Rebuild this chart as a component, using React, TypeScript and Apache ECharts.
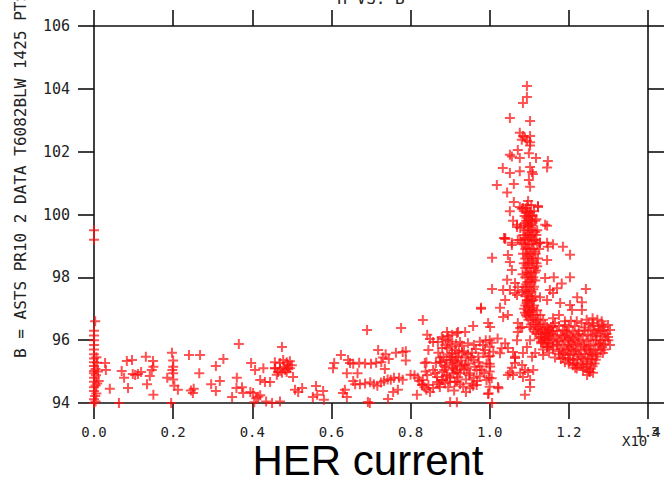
import React, { useEffect, useRef } from "react";
import * as echarts from "echarts";

// HER current (x10^3) vs B
const xTickValues = [0, 0.2, 0.4, 0.6, 0.8, 1.0, 1.2, 1.4];
const yTickValues = [94, 96, 98, 100, 102, 104, 106];

const zeroColumn: [number, number][] = [
  [0, 94.0], [0.004, 94.05], [0, 94.12], [0.003, 94.22], [0.006, 94.3], [0, 94.38], [0, 94.5],
  [0.004, 94.56], [0.008, 94.62], [0, 94.68], [0, 94.8], [0.005, 94.88], [0, 94.95], [0, 95.02],
  [0.004, 95.08], [0.008, 95.28], [0, 95.18], [0, 95.3], [0, 95.42], [0.006, 95.46], [0, 95.55],
  [0, 95.7], [0, 95.85], [0, 96.0], [0, 96.15], [0, 96.3], [0.003, 96.6], [0, 99.2], [0, 99.5],
  [0.01, 95.0], [0.012, 94.7],
];

const lowBand: [number, number][] = [
  [0.028, 95.27], [0.03, 95.05], [0.04, 94.45], [0.063, 94.0], [0.07, 95.02], [0.076, 94.8],
  [0.083, 95.34], [0.086, 94.48], [0.096, 95.37], [0.098, 94.92], [0.104, 94.89], [0.111, 94.92],
  [0.119, 94.99], [0.131, 95.47], [0.134, 94.6], [0.141, 94.86], [0.146, 95.05], [0.149, 95.34],
  [0.15, 95.15], [0.15, 94.26], [0.185, 94.8], [0.197, 95.6], [0.2, 95.35], [0.2, 95.15],
  [0.2, 94.95], [0.2, 94.75], [0.198, 95.05], [0.195, 94.0], [0.203, 94.55], [0.212, 94.42],
  [0.24, 95.53], [0.245, 94.4], [0.25, 94.32], [0.252, 94.45], [0.268, 95.53], [0.266, 94.95],
  [0.296, 94.6], [0.308, 95.18], [0.308, 94.38], [0.318, 94.7], [0.327, 95.4], [0.349, 94.19],
  [0.361, 94.8], [0.366, 95.88], [0.36, 94.48], [0.374, 94.5], [0.377, 94.32], [0.397, 95.27],
  [0.407, 95.05], [0.395, 94.35], [0.402, 94.32], [0.41, 94.15], [0.415, 94.2], [0.42, 94.25],
  [0.405, 94.02], [0.428, 95.11], [0.42, 94.73], [0.432, 94.67], [0.445, 94.67], [0.45, 94.0],
  [0.458, 95.11], [0.462, 94.9], [0.435, 94.05], [0.47, 94.05],
  [0.457, 95.3], [0.47, 95.27], [0.478, 95.37], [0.487, 95.3], [0.495, 95.33], [0.5, 95.2],
  [0.49, 95.11], [0.483, 95.05], [0.465, 94.99], [0.457, 95.11], [0.475, 94.96], [0.487, 94.99],
  [0.495, 95.11], [0.503, 94.83], [0.475, 95.78], [0.48, 95.15], [0.49, 95.22], [0.47, 95.1],
  [0.508, 94.42], [0.516, 94.35], [0.526, 94.48], [0.553, 94.19], [0.561, 94.54], [0.564, 94.26],
  [0.579, 94.38], [0.581, 94.1], [0.604, 95.11], [0.607, 95.27], [0.624, 95.53], [0.634, 94.42],
  [0.629, 94.32], [0.639, 94.19], [0.642, 95.37], [0.647, 95.27], [0.639, 94.95],
  [0.655, 95.25], [0.67, 95.28], [0.685, 95.26], [0.7, 95.25], [0.713, 95.28], [0.726, 95.3],
  [0.655, 94.7], [0.66, 94.6], [0.666, 94.95], [0.672, 94.6], [0.685, 94.62], [0.698, 94.66],
  [0.707, 94.6], [0.716, 94.55], [0.725, 94.65], [0.733, 94.7], [0.742, 94.75], [0.75, 94.74],
  [0.758, 94.8], [0.771, 94.8], [0.78, 94.74],
  [0.69, 96.32], [0.692, 94.03], [0.697, 94.0], [0.718, 95.69], [0.73, 95.45], [0.737, 95.55],
  [0.745, 95.4], [0.763, 95.6], [0.78, 95.62], [0.788, 95.65], [0.788, 95.35], [0.735, 95.08],
  [0.743, 94.13], [0.756, 94.35], [0.768, 94.42], [0.776, 96.39],
];

const midCluster: [number, number][] = [
  [0.8, 94.9], [0.81, 94.88], [0.818, 94.8], [0.822, 94.7], [0.83, 94.6], [0.835, 94.5],
  [0.84, 94.42], [0.816, 94.26], [0.831, 96.64], [0.9, 94.03], [0.917, 94.02],
  [0.842, 96.17], [0.849, 96.04], [0.857, 95.94], [0.869, 95.94], [0.882, 96.04], [0.895, 96.0],
  [0.905, 96.17], [0.917, 96.23], [0.845, 95.69], [0.892, 95.75], [0.905, 95.59], [0.912, 95.69],
  [0.9, 95.37], [0.912, 95.31], [0.92, 95.47], [0.887, 95.15], [0.905, 95.12], [0.917, 94.99],
  [0.88, 94.99], [0.867, 94.83], [0.882, 94.73], [0.9, 94.8], [0.912, 94.67], [0.842, 94.89],
  [0.831, 94.73], [0.829, 94.57], [0.845, 94.57], [0.857, 94.48], [0.867, 94.67], [0.874, 94.51],
  [0.849, 94.35], [0.836, 95.27], [0.864, 95.27], [0.857, 95.05], [0.874, 95.31], [0.925, 95.94],
  [0.892, 96.26], [0.838, 95.0], [0.84, 95.3],
  [0.879, 96.1], [0.895, 96.13], [0.92, 96.26], [0.938, 96.26], [0.958, 96.45], [0.996, 96.55],
  [1.001, 96.42], [0.978, 97.0],
  [0.888, 95.85], [0.9, 95.95], [0.915, 95.88], [0.93, 95.82], [0.945, 95.9], [0.96, 95.85],
  [0.975, 95.95], [0.99, 96.0], [1.005, 95.92], [1.02, 96.05],
  [0.883, 95.47], [0.891, 95.37], [0.904, 95.47], [0.917, 95.26], [0.908, 95.1], [0.925, 95.16],
  [0.938, 95.21], [0.946, 95.26], [0.959, 95.37], [0.971, 95.47], [0.984, 95.58], [0.997, 95.47],
  [0.992, 95.26], [1.001, 95.16], [0.975, 95.16], [0.967, 95.05], [0.95, 94.95], [0.925, 94.95],
  [0.908, 94.95], [0.891, 94.89], [0.879, 94.73], [0.887, 94.63], [0.9, 94.68], [0.917, 94.68],
  [0.933, 94.52], [0.95, 94.47], [0.967, 94.57], [0.992, 94.73], [1.005, 94.79], [1.0, 94.52],
  [1.022, 94.47], [0.997, 94.31], [0.98, 95.05], [0.988, 95.69], [1.0, 95.79], [1.009, 95.63],
  [1.026, 95.58], [1.03, 95.74], [1.039, 95.9], [0.93, 95.6], [0.94, 95.45], [0.955, 95.6],
  [0.965, 95.72], [0.935, 95.05], [0.96, 94.8], [0.975, 94.85], [0.94, 94.75], [0.955, 94.62],
  [1.0, 96.0], [1.0, 95.5], [1.0, 95.25], [1.0, 95.0], [0.998, 94.8], [1.006, 94.0],
  [1.021, 94.51], [0.996, 94.29],
  [1.077, 96.39], [1.069, 96.0], [1.064, 95.43], [1.056, 95.12], [1.046, 94.89], [1.084, 94.83],
  [1.102, 94.51], [1.089, 94.26],
  [1.046, 95.75], [1.059, 95.62], [1.064, 95.47], [1.084, 95.59], [1.094, 95.78], [1.107, 95.47],
  [1.115, 95.59], [1.082, 95.21], [1.064, 95.27], [1.051, 94.96], [1.059, 94.89], [1.077, 94.96],
  [1.089, 95.05], [1.097, 94.99], [1.11, 95.05], [1.102, 94.73],
  [1.006, 98.62], [1.006, 97.63], [0.978, 97.03], [1.034, 97.6], [1.039, 97.28], [1.026, 97.03],
  [1.034, 96.74], [1.046, 96.8], [1.051, 97.6], [1.064, 97.5], [1.071, 96.55], [1.082, 96.42],
  [1.071, 96.26], [1.102, 96.42], [1.115, 96.26], [1.102, 96.0], [1.145, 96.42], [1.147, 96.23],
  [1.135, 96.0], [1.145, 95.78],
];

const midExtra: [number, number][] = [
  [0.87, 95.6], [0.878, 95.3], [0.885, 95.05], [0.893, 94.85], [0.898, 95.55], [0.906, 95.28],
  [0.913, 95.05], [0.92, 94.82], [0.928, 95.35], [0.935, 95.65], [0.942, 95.1], [0.948, 94.88],
  [0.953, 95.45], [0.962, 95.15], [0.968, 94.7], [0.972, 95.3], [0.983, 95.85], [0.986, 94.95],
  [0.862, 94.95], [0.872, 94.6], [0.895, 94.5], [0.91, 94.4], [0.925, 94.6], [0.94, 94.35],
  [0.958, 94.55], [0.88, 95.75], [0.905, 95.8], [0.922, 95.65], [0.875, 95.45], [0.89, 95.2],
  [0.915, 95.45], [0.93, 95.2], [0.945, 95.55],
];

const peakColumn: [number, number][] = [
  [1.094, 104.09], [1.094, 103.74], [1.084, 103.55], [1.051, 103.07], [1.102, 102.98],
  [1.076, 102.6], [1.084, 102.5], [1.081, 102.38], [1.089, 102.45], [1.102, 102.5], [1.094, 102.35],
  [1.102, 102.3], [1.102, 102.2], [1.071, 102.05], [1.051, 101.9], [1.056, 101.85], [1.076, 101.8],
  [1.099, 101.95], [1.117, 101.8], [1.147, 101.7], [1.145, 101.5], [1.033, 101.48], [1.051, 101.32],
  [1.076, 101.38], [1.102, 101.51], [1.107, 101.35], [1.109, 101.29], [1.099, 101.1], [1.102, 100.88],
  [1.018, 100.94], [1.061, 100.97], [1.044, 100.7], [1.061, 100.4], [1.051, 100.1], [1.076, 100.24],
  [1.081, 100.18], [1.097, 100.43], [1.102, 100.08], [1.122, 100.24], [1.059, 99.8], [1.069, 99.6],
  [1.039, 99.25], [1.056, 99.03], [1.071, 99.19], [1.081, 99.1], [1.145, 99.64], [1.127, 99.1],
  [1.145, 99.1], [1.16, 99.05], [1.185, 98.97], [1.203, 98.72], [1.046, 98.71], [1.036, 99.25],
  [1.084, 100.21], [1.094, 100.05], [1.107, 99.98], [1.122, 100.27],
  [1.069, 99.67], [1.077, 99.57], [1.089, 99.73], [1.097, 99.6], [1.107, 99.76], [1.115, 99.44],
  [1.102, 99.28], [1.089, 99.25], [1.077, 99.19], [1.056, 99.1], [1.039, 99.22],
  [1.051, 98.49], [1.056, 98.23], [1.044, 97.92], [1.064, 97.82], [1.071, 97.69], [1.082, 97.53],
  [1.069, 97.44], [1.094, 97.28], [1.097, 97.06], [1.089, 96.87], [1.094, 96.75], [1.102, 96.9],
  [1.11, 97.28], [1.127, 97.37], [1.145, 97.28], [1.152, 97.6], [1.14, 97.98], [1.145, 98.55],
  [1.147, 98.97], [1.127, 99.1], [1.14, 99.67],
  [1.095, 100.3], [1.105, 100.3], [1.09, 100.1], [1.1, 100.1], [1.112, 100.1],
  [1.088, 99.95], [1.098, 99.95], [1.108, 99.95], [1.092, 99.8], [1.103, 99.8], [1.115, 99.8],
  [1.086, 99.65], [1.096, 99.65], [1.106, 99.65], [1.09, 99.5], [1.1, 99.5], [1.11, 99.5], [1.12, 99.5],
  [1.085, 99.35], [1.095, 99.35], [1.105, 99.35], [1.118, 99.35], [1.09, 99.2], [1.1, 99.2], [1.112, 99.2],
  [1.086, 99.05], [1.096, 99.05], [1.106, 99.05], [1.12, 99.05], [1.09, 98.9], [1.1, 98.9], [1.11, 98.9],
  [1.125, 98.9], [1.084, 98.75], [1.094, 98.75], [1.104, 98.75], [1.116, 98.75], [1.09, 98.6], [1.1, 98.6],
  [1.11, 98.6], [1.122, 98.6], [1.086, 98.45], [1.096, 98.45], [1.106, 98.45], [1.118, 98.45],
  [1.09, 98.3], [1.1, 98.3], [1.112, 98.3], [1.094, 98.15], [1.104, 98.15], [1.114, 98.15],
  [1.09, 98.0], [1.1, 98.0], [1.11, 98.0], [1.095, 97.85], [1.105, 97.85], [1.09, 97.7], [1.1, 97.7],
  [1.112, 97.7], [1.095, 97.55], [1.105, 97.55], [1.09, 97.4], [1.1, 97.4], [1.115, 97.4],
  [1.094, 97.25], [1.106, 97.25], [1.09, 97.1], [1.1, 97.1], [1.112, 97.1], [1.096, 96.95],
  [1.108, 96.95], [1.12, 96.95], [1.092, 96.8], [1.104, 96.8], [1.116, 96.8], [1.128, 96.8],
  [1.098, 96.65], [1.11, 96.65], [1.122, 96.65], [1.135, 96.65], [1.104, 96.5], [1.116, 96.5],
  [1.128, 96.5], [1.14, 96.5], [1.11, 96.35], [1.122, 96.35], [1.134, 96.35], [1.148, 96.35],
  [1.118, 96.2], [1.13, 96.2], [1.142, 96.2], [1.155, 96.2], [1.124, 96.05], [1.136, 96.05],
  [1.15, 96.05], [1.13, 95.9], [1.14, 95.9],
];

const columnExtra: [number, number][] = [
  [1.093, 99.9], [1.103, 99.7], [1.097, 99.42], [1.108, 99.15], [1.093, 98.95], [1.113, 98.82],
  [1.097, 98.68], [1.107, 98.52], [1.093, 98.38], [1.117, 98.22], [1.097, 98.08], [1.107, 97.93],
  [1.092, 97.78], [1.11, 97.62], [1.097, 97.48], [1.106, 97.33], [1.093, 97.18], [1.108, 97.02],
  [1.1, 96.88], [1.11, 96.72], [1.118, 96.58], [1.125, 96.42], [1.13, 96.28], [1.115, 97.9],
  [1.12, 98.35], [1.083, 98.1], [1.085, 97.6], [1.087, 97.0], [1.115, 99.2], [1.118, 99.85],
  [1.092, 100.2], [1.1, 99.85],
];

const rightBlob: [number, number][] = [
  [1.178, 97.18], [1.203, 97.12], [1.208, 96.96], [1.221, 97.37], [1.233, 97.21], [1.233, 96.96],
  [1.243, 97.63], [1.162, 98.0], [1.182, 97.8], [1.203, 98.0], [1.16, 97.5], [1.17, 97.65],
  [1.299, 96.48], [1.304, 96.32], [1.299, 96.1], [1.304, 95.85], [1.284, 95.78], [1.286, 95.59],
  [1.135, 95.53], [1.145, 95.78], [1.185, 95.43], [1.216, 95.12], [1.236, 95.05], [1.253, 94.99],
  [1.261, 94.96], [1.246, 94.89], [1.221, 95.21], [1.203, 95.37],
  [1.19, 96.6], [1.205, 96.62], [1.26, 96.7], [1.272, 96.65], [1.283, 96.6],
  [1.175, 96.45], [1.19, 96.48], [1.2, 96.42], [1.215, 96.45], [1.25, 96.5], [1.262, 96.47],
  [1.275, 96.45], [1.288, 96.42],
  [1.16, 96.3], [1.17, 96.28], [1.185, 96.32], [1.195, 96.3], [1.21, 96.27], [1.225, 96.31],
  [1.24, 96.3], [1.255, 96.33], [1.265, 96.3], [1.28, 96.28], [1.29, 96.3],
  [1.15, 96.15], [1.165, 96.13], [1.18, 96.17], [1.19, 96.15], [1.205, 96.12], [1.22, 96.16],
  [1.235, 96.14], [1.248, 96.18], [1.26, 96.15], [1.27, 96.12], [1.285, 96.15],
  [1.145, 96.0], [1.16, 96.02], [1.175, 95.98], [1.19, 96.0], [1.2, 96.03], [1.215, 95.99],
  [1.23, 96.01], [1.245, 95.97], [1.255, 96.02], [1.268, 96.0], [1.28, 95.98], [1.292, 96.01],
  [1.155, 95.85], [1.17, 95.87], [1.185, 95.84], [1.198, 95.86], [1.21, 95.83], [1.222, 95.87],
  [1.238, 95.85], [1.25, 95.82], [1.262, 95.86], [1.275, 95.84], [1.288, 95.87],
  [1.16, 95.7], [1.18, 95.72], [1.195, 95.68], [1.205, 95.71], [1.218, 95.7], [1.23, 95.67],
  [1.243, 95.72], [1.255, 95.69], [1.267, 95.71], [1.28, 95.68],
  [1.175, 95.55], [1.19, 95.57], [1.2, 95.53], [1.212, 95.56], [1.225, 95.54], [1.24, 95.57],
  [1.252, 95.55], [1.26, 95.52], [1.272, 95.56],
  [1.18, 95.4], [1.198, 95.42], [1.21, 95.38], [1.222, 95.41], [1.235, 95.39], [1.248, 95.42],
  [1.258, 95.4], [1.268, 95.38],
  [1.2, 95.25], [1.215, 95.27], [1.23, 95.24], [1.245, 95.26], [1.255, 95.23], [1.265, 95.26],
  [1.22, 95.1], [1.24, 95.12], [1.255, 95.08],
  [1.165, 96.55], [1.155, 96.4], [1.14, 96.25], [1.13, 96.1], [1.16, 96.7], [1.175, 96.8],
  [1.135, 95.7], [1.15, 95.6], [1.165, 95.45], [1.232, 96.55], [1.245, 96.65], [1.22, 96.6],
];

const blobExtra: [number, number][] = [
  [1.195, 96.22], [1.21, 96.08], [1.225, 95.92], [1.24, 95.78], [1.255, 95.62], [1.27, 95.48],
  [1.185, 95.6], [1.2, 95.78], [1.215, 95.63], [1.23, 95.47], [1.245, 95.33], [1.26, 95.17],
  [1.278, 95.9], [1.27, 96.22], [1.26, 96.55], [1.24, 96.4], [1.225, 96.2], [1.205, 95.95],
  [1.185, 96.08], [1.17, 95.95], [1.16, 96.45], [1.15, 96.3], [1.14, 96.1], [1.13, 95.95],
  [1.148, 95.9], [1.16, 95.8], [1.175, 95.65], [1.19, 95.3], [1.21, 95.2], [1.235, 95.15],
  [1.25, 95.0], [1.295, 96.2], [1.29, 95.7], [1.3, 96.0], [1.285, 96.5], [1.275, 96.35],
];

const plusSymbol = "path://M4,0H6V4H10V6H6V10H4V6H0V4H4Z";

export default function App() {
  const ref = useRef<HTMLDivElement>(null);

  useEffect(() => {
    if (!ref.current) return;
    const chart = echarts.init(ref.current, undefined, { renderer: "svg" });
    const points = [
      ...zeroColumn, ...lowBand, ...midCluster, ...midExtra,
      ...peakColumn, ...columnExtra, ...rightBlob, ...blobExtra,
    ];
    const axisLine = { show: true, onZero: false, lineStyle: { color: "#111", width: 1.6 } };
    const axisTick = { show: true, inside: false, length: 16, lineStyle: { color: "#111", width: 1.6 } };
    chart.setOption({
      animation: false,
      backgroundColor: "#fff",
      grid: { left: 94, right: 16, top: 26, bottom: 77, containLabel: false },
      xAxis: [
        {
          type: "value", position: "bottom", min: xTickValues[0], max: xTickValues[xTickValues.length - 1],
          interval: 0.2, axisLine, axisTick, splitLine: { show: false },
          axisLabel: {
            margin: 22, fontFamily: "DejaVu Sans Mono", fontSize: 14, color: "#222",
            showMinLabel: true, showMaxLabel: true,
            formatter: (v: number) => v.toFixed(1),
          },
        },
        {
          type: "value", position: "top", min: 0, max: 1.4, interval: 0.2,
          axisLine, axisTick, axisLabel: { show: false }, splitLine: { show: false },
        },
      ],
      yAxis: [
        {
          type: "value", position: "left", min: yTickValues[0], max: yTickValues[yTickValues.length - 1],
          interval: 2, axisLine, axisTick, splitLine: { show: false },
          axisLabel: {
            margin: 24, fontFamily: "DejaVu Sans Mono", fontSize: 15, color: "#222",
            showMinLabel: true, showMaxLabel: true,
          },
        },
        {
          type: "value", position: "right", min: 94, max: 106, interval: 2,
          axisLine, axisTick, axisLabel: { show: false }, splitLine: { show: false },
        },
      ],
      series: [
        {
          type: "scatter",
          data: points,
          symbol: plusSymbol,
          symbolSize: 10,
          silent: true,
          itemStyle: { color: "rgba(255,16,16,0.9)" },
        },
      ],
      graphic: [
        {
          type: "text", x: 20, y: 358, rotation: Math.PI / 2,
          style: {
            text: "B = ASTS PR10 2 DATA T6082BLW 1425 PTS", fill: "#222",
            font: "16px 'DejaVu Sans Mono'", align: "left", verticalAlign: "middle",
          },
        },
        {
          type: "text", x: 371, y: -2,
          style: { text: "H VS. B", fill: "#222", font: "16px 'DejaVu Sans Mono'", align: "center", verticalAlign: "middle" },
        },
        {
          type: "text", x: 622, y: 441,
          style: { text: "X10", fill: "#222", font: "14px 'DejaVu Sans Mono'", align: "left", verticalAlign: "middle" },
        },
        {
          type: "text", x: 651, y: 431,
          style: { text: "3", fill: "#222", font: "13px 'DejaVu Sans Mono'", align: "left", verticalAlign: "middle" },
        },
        {
          type: "text", x: 368, y: 460,
          style: { text: "HER current", fill: "#000", font: "42px 'Liberation Sans'", align: "center", verticalAlign: "middle" },
        },
      ],
    });
    return () => chart.dispose();
  }, []);

  return <div ref={ref} style={{ width: 664, height: 480, position: "absolute", left: 0, top: 0 }} />;
}
